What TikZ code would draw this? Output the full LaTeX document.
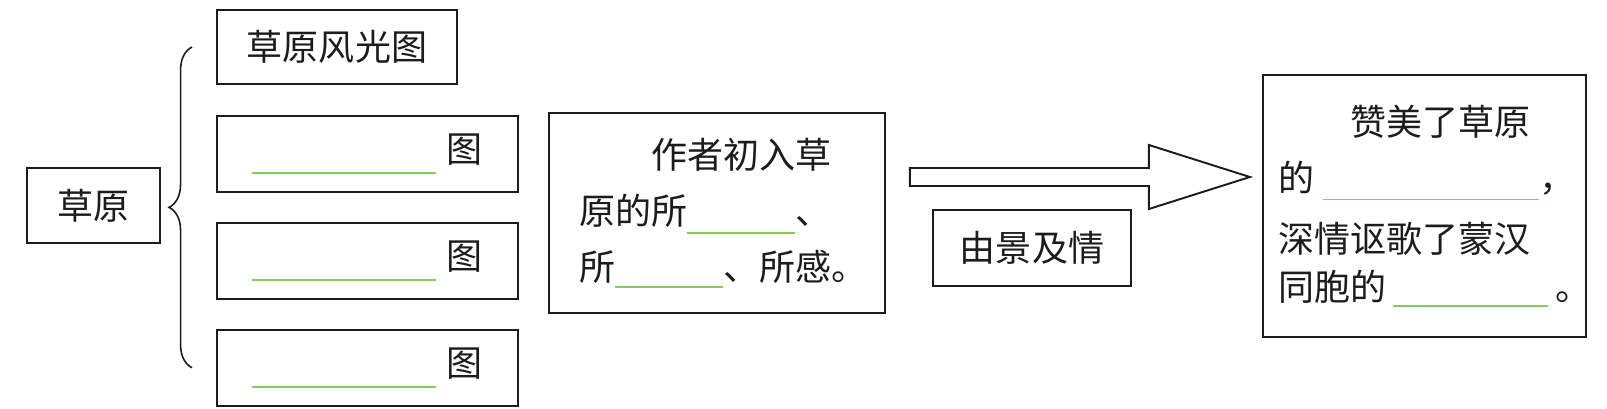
\documentclass[tikz,border=0pt]{standalone}
\usepackage{fontspec}
\setmainfont{Noto Sans CJK SC}
\usetikzlibrary{positioning,calc,decorations.pathreplacing}
\definecolor{inkgray}{HTML}{1C1C1C}
\definecolor{blankgreen}{HTML}{86CC5A}
\newcommand{\fillblank}[2]{\textcolor{blankgreen}{\rule[-#1]{#2}{1pt}}}
\tikzset{
  cbox/.style={draw=inkgray,line width=1.1pt,text=inkgray,inner sep=0pt,font=\fontsize{20.5}{31.9}\selectfont},
  viewbox/.style={cbox,minimum width=6.02cm,minimum height=1.52cm},
  parabox/.style={cbox,align=left},
  bigarrow/.style={draw=inkgray,line width=1.1pt,fill=white},
  bracket/.style={decorate,decoration={brace,amplitude=0.46cm},draw=inkgray,line width=0.9pt},
}

\begin{document}
\begin{tikzpicture}[x=0.02cm,y=-0.02cm]
  \useasboundingbox (0,0) rectangle (1607,409);
  \node[cbox,minimum width=2.66cm,minimum height=1.5cm] (grass) at (93.5,205.5) {草原};
  \node[cbox,minimum width=4.8cm,minimum height=1.48cm] (v1) at (337,47) {草原风光图};
  \node[viewbox,below=0.6cm of v1.south west,anchor=north west] (v2) {\fillblank{0.31em}{5.1em}\kern0.3em图};
  \node[viewbox,below=0.58cm of v2] (v3) {\fillblank{0.31em}{5.1em}\kern0.3em图};
  \node[viewbox,below=0.58cm of v3] (v4) {\fillblank{0.31em}{5.1em}\kern0.3em图};
  \draw[bracket] ($(v4.west)+(-24,0)$) -- ($(v1.west)+(-24,0)$);
  \node[parabox,text width=5.52cm,inner xsep=0.6cm,minimum height=4cm] (scene) at (717,213)
    {\hspace*{2em}作者初入草\\
     原的所\fillblank{0.25em}{3em}、\\
     所\fillblank{0.2em}{3em}、所感。};
  \coordinate (tail) at ($(scene.east)+(24,-36)$);
  \draw[bigarrow] ($(tail)+(0,-9)$) -- ++(239,0) -- ++(0,-23) -- ($(tail)+(340,0)$)
    -- ($(tail)+(239,32)$) -- ++(0,-23) -- ($(tail)+(0,9)$) -- cycle;
  \node[cbox,minimum width=3.96cm,minimum height=1.52cm] (feel) at (1032,248) {\raisebox{-0.1cm}{由景及情}};
  \node[parabox,text width=5.86cm,inner xsep=0.3cm,minimum height=5.24cm] (praise) at (1424.5,206)
    {\hspace*{2em}赞美了草原\\
     的\kern0.25em\fillblank{0.24em}{6em}，\\[2.5pt]
     深情讴歌了蒙汉\\[-4.5pt]
     同胞的\kern0.2em\fillblank{0.18em}{4.3em}\kern0.2em。};
\end{tikzpicture}
\end{document}
